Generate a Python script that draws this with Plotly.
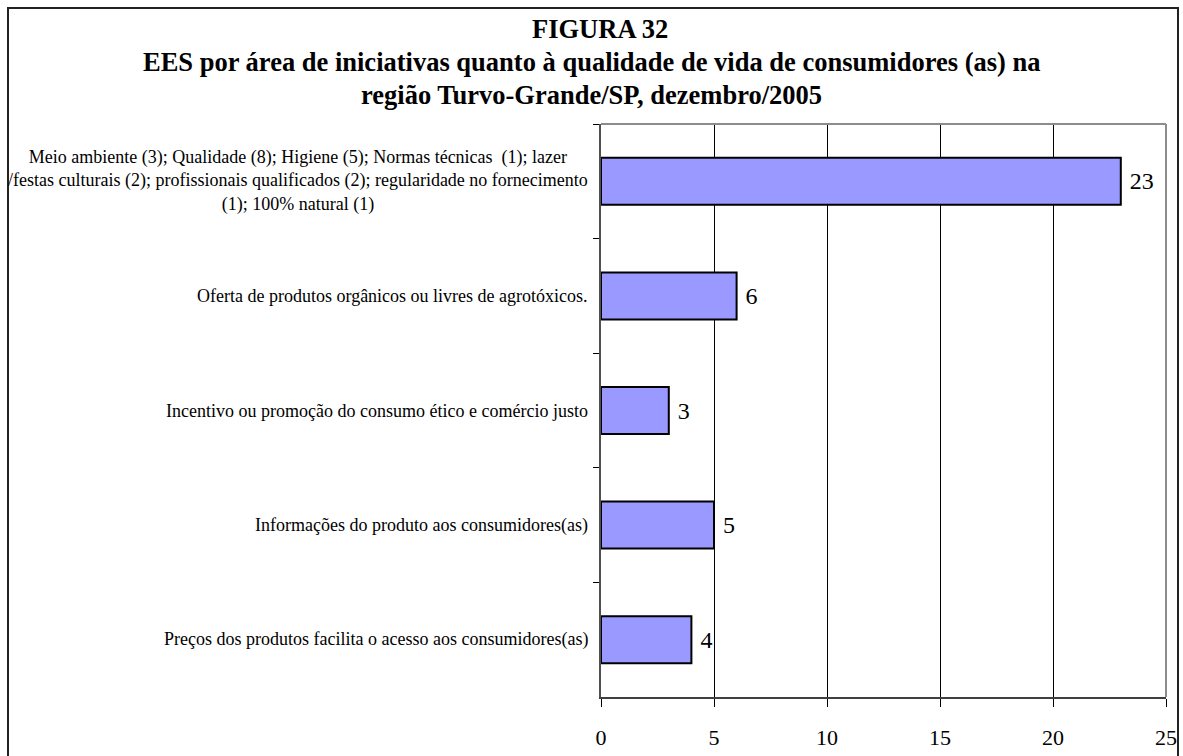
import plotly.graph_objects as go

# Categories (top to bottom) and their counts
categories = [
    "Meio ambiente (3); Qualidade (8); Higiene (5); Normas técnicas  (1); lazer<br>"
    "/festas culturais (2); profissionais qualificados (2); regularidade no fornecimento<br>"
    "(1); 100% natural (1)",
    "Oferta de produtos orgânicos ou livres de agrotóxicos.",
    "Incentivo ou promoção do consumo ético e comércio justo",
    "Informações do produto aos consumidores(as)",
    "Preços dos produtos facilita o acesso aos consumidores(as)",
]
values = [23, 6, 3, 5, 4]
x_ticks = [0, 5, 10, 15, 20, 25]

title_lines = [
    "FIGURA 32",
    "EES por área de iniciativas quanto à qualidade de vida de consumidores (as) na",
    "região Turvo-Grande/SP, dezembro/2005",
]

SERIF = "Liberation Serif"
W, H = 1183, 756
L, R, T, B = 601, 17, 124, 59
PW, PH = W - L - R, H - T - B


def px_to_paper_x(px):
    return (px - L) / PW


def px_to_paper_y(py):
    return (H - B - py) / PH


fig = go.Figure(
    go.Bar(
        x=values,
        y=categories,
        orientation="h",
        width=0.41,
        marker=dict(color="#9999FF", line=dict(color="black", width=2)),
        text=values,
        texttemplate=" %{x}",
        textposition="outside",
        textfont=dict(family=SERIF, size=24, color="black"),
        cliponaxis=False,
        hoverinfo="skip",
    )
)

# Category labels, right-aligned to the axis with centred lines
for cat in categories:
    fig.add_annotation(
        x=0, xref="paper", xanchor="right", xshift=-11,
        y=cat, yref="y", yanchor="middle",
        text=cat, align="center", showarrow=False,
        font=dict(family=SERIF, size=18, color="black"),
    )

# Three-line bold heading
title_x = [600, 591, 591]
title_y = [29, 62, 95]
for line, tx, ty in zip(title_lines, title_x, title_y):
    fig.add_annotation(
        x=px_to_paper_x(tx), xref="paper", xanchor="center",
        y=px_to_paper_y(ty), yref="paper", yanchor="middle",
        text=f"<b>{line}</b>", showarrow=False,
        font=dict(family=SERIF, size=26.5, color="black"),
    )

fig.update_layout(
    width=W, height=H,
    margin=dict(l=L, r=R, t=T, b=B, pad=0, autoexpand=False),
    paper_bgcolor="white",
    plot_bgcolor="white",
    showlegend=False,
    xaxis=dict(
        range=[0, 25],
        tickvals=x_ticks,
        ticks="outside", ticklen=8, tickcolor="black", tickwidth=1,
        ticklabelstandoff=12,
        tickfont=dict(family=SERIF, size=22, color="black"),
        showgrid=True, gridcolor="black", gridwidth=1,
        zeroline=False,
        showline=True, linecolor="#404040", linewidth=2,
        automargin=False,
        fixedrange=True,
    ),
    yaxis=dict(
        categoryorder="array", categoryarray=categories,
        autorange="reversed",
        tickson="boundaries",
        ticks="outside", ticklen=6, tickcolor="black", tickwidth=1,
        showticklabels=False,
        showgrid=False, zeroline=False,
        showline=True, linecolor="#505050", linewidth=2,
        automargin=False,
        fixedrange=True,
    ),
    shapes=[
        # grey plot-area border on top and right
        dict(type="line", xref="paper", yref="paper", x0=0, x1=1, y0=1, y1=1,
             line=dict(color="#8c8c8c", width=2), layer="above"),
        dict(type="line", xref="paper", yref="paper", x0=1, x1=1, y0=0, y1=1,
             line=dict(color="#8c8c8c", width=2), layer="above"),
        # outer frame around the whole figure
        dict(type="rect", xref="paper", yref="paper",
             x0=px_to_paper_x(8), x1=px_to_paper_x(1178),
             y0=px_to_paper_y(8), y1=px_to_paper_y(800),
             line=dict(color="#222222", width=2), layer="above"),
    ],
)

fig.write_html("out.html")
